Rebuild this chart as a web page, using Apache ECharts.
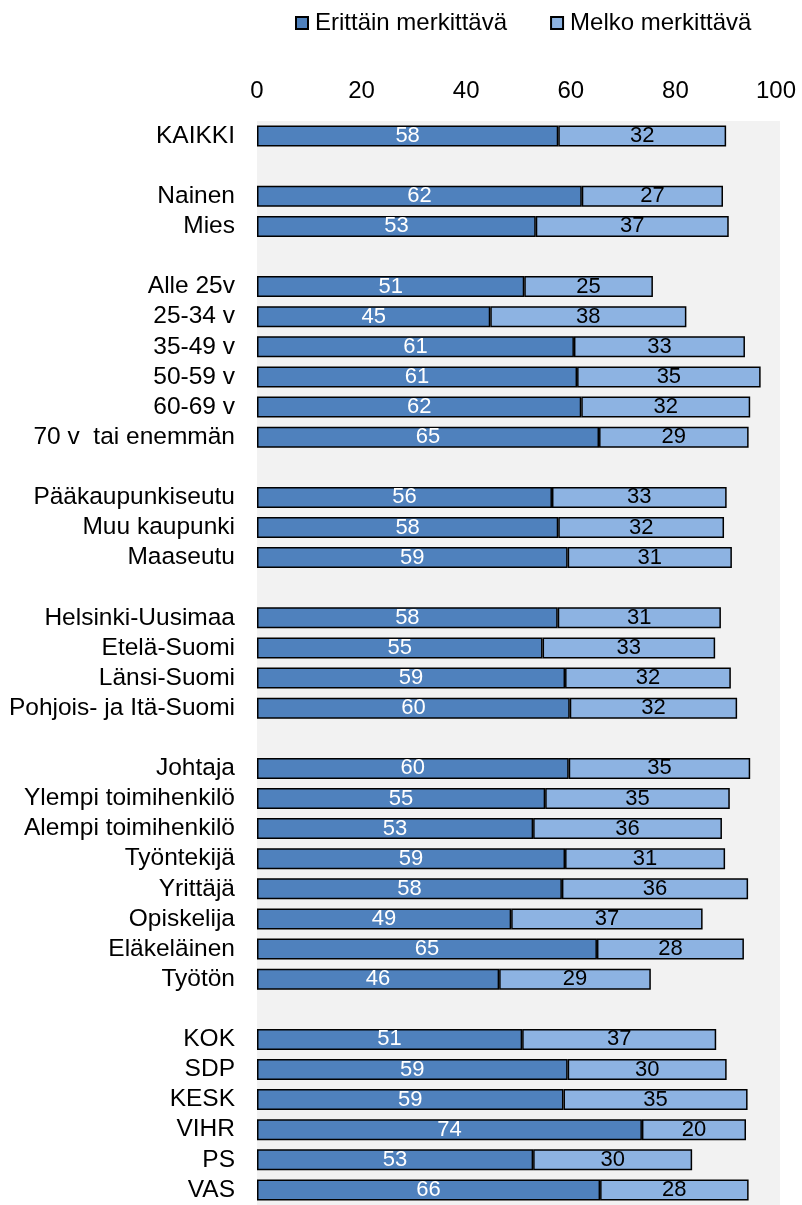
<!DOCTYPE html>
<html>
<head>
<meta charset="utf-8">
<script src="https://cdn.jsdelivr.net/npm/echarts@6/dist/echarts.min.js"></script>
<style>
html,body{margin:0;padding:0;background:#fff;}
#chart{width:802px;height:1205px;}
</style>
</head>
<body>
<div id="chart"></div>
<script>
const categories = ['KAIKKI','', 'Nainen','Mies','', 'Alle 25v','25-34 v','35-49 v','50-59 v','60-69 v','70 v  tai enemmän','', 'Pääkaupunkiseutu','Muu kaupunki','Maaseutu','', 'Helsinki-Uusimaa','Etelä-Suomi','Länsi-Suomi','Pohjois- ja Itä-Suomi','', 'Johtaja','Ylempi toimihenkilö','Alempi toimihenkilö','Työntekijä','Yrittäjä','Opiskelija','Eläkeläinen','Työtön','', 'KOK','SDP','KESK','VIHR','PS','VAS'];
const seriesNames = ['Erittäin merkittävä','Melko merkittävä'];
const erittain = [57.6,null,62.1,53.3,null,51.1,44.6,60.6,61.2,62.0,65.4,null,56.4,57.6,59.4,null,57.5,54.6,58.9,59.8,null,59.6,55.1,52.8,58.9,58.3,48.6,65.0,46.3,null,50.7,59.4,58.6,73.6,52.8,65.6];
const melko = [32.1,null,27.0,36.9,null,24.6,37.5,32.7,35.1,32.3,28.6,null,33.4,31.7,31.4,null,31.2,33.0,31.7,32.0,null,34.7,35.3,36.1,30.6,35.6,36.6,28.1,29.0,null,37.1,30.4,35.2,19.9,30.4,28.4];
const xTicks = [0,20,40,60,80,100];

const FONT = '"Liberation Sans", Arial, sans-serif';
const axisCats = categories.map((c,i)=> c === '' ? ' '.repeat(i+1) : c);

const chart = echarts.init(document.getElementById('chart'), null, {renderer:'canvas'});
const labelFmt = p => (p.value == null ? '' : String(Math.round(p.value)));

chart.setOption({
  animation:false,
  textStyle:{fontFamily:FONT},
  legend:{
    left:290, top:6,
    itemWidth:12, itemHeight:12, itemGap:43,
    icon:'rect',
    textStyle:{fontSize:24, color:'#000', fontFamily:FONT, padding:[0,0,0,2]},
    data:seriesNames
  },
  grid:{
    left:257, right:22, top:121, height:36*30.24,
    show:true, backgroundColor:'#f2f2f2', borderWidth:0, containLabel:false
  },
  xAxis:{
    type:'value', position:'top', min:xTicks[0], max:xTicks[xTicks.length-1], interval:20,
    axisLine:{show:false}, axisTick:{show:false}, splitLine:{show:false},
    axisLabel:{
      fontSize:24, color:'#000', fontFamily:FONT, margin:18,
      formatter: v => v === 100 ? '{m|100}' : String(v),
      rich:{m:{fontSize:24, color:'#000', fontFamily:FONT, padding:[0,8,0,0]}}
    }
  },
  yAxis:{
    type:'category', inverse:true, data:axisCats,
    axisLine:{show:false}, axisTick:{show:false}, splitLine:{show:false},
    axisLabel:{fontSize:24.5, color:'#000', fontFamily:FONT, margin:22, interval:0}
  },
  series:[
    {
      name:seriesNames[0], type:'bar', stack:'a', data:erittain, barWidth:21,
      itemStyle:{color:'#4F81BD', borderColor:'#000', borderWidth:1.5},
      label:{show:true, position:'inside', color:'#fff', fontSize:22, fontFamily:FONT, formatter:labelFmt}
    },
    {
      name:seriesNames[1], type:'bar', stack:'a', data:melko, barWidth:21,
      itemStyle:{color:'#8DB3E2', borderColor:'#000', borderWidth:1.5},
      label:{show:true, position:'inside', color:'#000', fontSize:22, fontFamily:FONT, formatter:labelFmt}
    }
  ]
});
</script>
</body>
</html>
